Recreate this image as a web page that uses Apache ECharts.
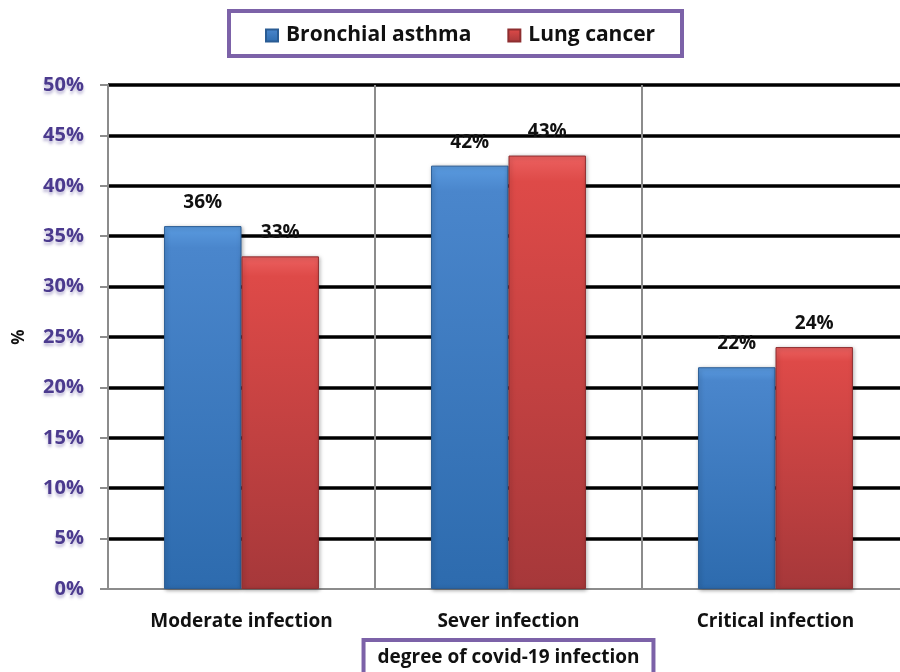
<!DOCTYPE html>
<html><head><meta charset="utf-8">
<script src="https://cdn.jsdelivr.net/npm/echarts@6/dist/echarts.min.js"></script>
<style>html,body{margin:0;padding:0;background:#fff}#c{width:900px;height:672px}</style>
</head><body><div id="c"></div>
<script>
const categories = ['Moderate infection', 'Sever infection', 'Critical infection'];
const seriesNames = ['Bronchial asthma', 'Lung cancer'];
const asthma = [36, 42, 22];
const lungCancer = [33, 43, 24];
const yTicks = [0, 5, 10, 15, 20, 25, 30, 35, 40, 45, 50];

const FONT = '"Open Sans", "Noto Sans", sans-serif';
const blueGrad = new echarts.graphic.LinearGradient(0, 0, 0, 1, [
  {offset: 0, color: '#5A9BE0'}, {offset: 0.06, color: '#4A86CC'}, {offset: 1, color: '#2D6BAE'}]);
const redGrad = new echarts.graphic.LinearGradient(0, 0, 0, 1, [
  {offset: 0, color: '#EC6160'}, {offset: 0.06, color: '#DE4A48'}, {offset: 1, color: '#A6383A'}]);

const chart = echarts.init(document.getElementById('c'));
chart.setOption({
  animation: false,
  grid: {left: 108, top: 85, width: 801, height: 504, containLabel: false, outerBoundsMode: 'none'},
  graphic: [{
    type: 'rect', shape: {x: 229, y: 11, width: 453, height: 45},
    style: {fill: '#fff', stroke: '#7C62A8', lineWidth: 4}, z: 0
  }],
  legend: {
    top: 20, left: 260, itemGap: 36, itemWidth: 12, itemHeight: 12,
    icon: 'rect', z: 10,
    textStyle: {fontFamily: FONT, fontWeight: 'bold', fontSize: 21, color: '#111', padding: [0, 0, 0, 3]},
    data: seriesNames
  },
  xAxis: {
    type: 'category', data: categories,
    axisLine: {lineStyle: {color: '#8c8c8c', width: 2}},
    axisTick: {show: false},
    splitLine: {show: true, lineStyle: {color: '#8c8c8c', width: 2}},
    axisLabel: {margin: 23, fontFamily: FONT, fontWeight: 'bold', fontSize: 19, color: '#111'},
    name: 'degree of covid-19 infection', nameLocation: 'middle', nameGap: 53,
    nameTextStyle: {fontFamily: FONT, fontWeight: 'bold', fontSize: 19, color: '#111',
      borderColor: '#7C62A8', borderWidth: 4, padding: [6, 12, 10, 12], backgroundColor: '#fff'}
  },
  yAxis: {
    type: 'value', min: yTicks[0], max: yTicks[yTicks.length - 1], interval: 5,
    axisLine: {show: true, lineStyle: {color: '#8c8c8c', width: 2}},
    axisTick: {show: true, length: 8, lineStyle: {color: '#8c8c8c', width: 2}},
    splitLine: {show: true, showMinLine: false, lineStyle: {color: '#000', width: 3.5}},
    axisLabel: {margin: 24, formatter: '{value}%', fontFamily: FONT, fontWeight: 'bold',
      fontSize: 20, color: '#4B3A8E', textShadowColor: 'rgba(75,58,142,0.35)', textShadowBlur: 3, textShadowOffsetY: 3},
    name: '%', nameLocation: 'middle', nameGap: 80, nameRotate: 90,
    nameTextStyle: {fontFamily: FONT, fontWeight: 'bold', fontSize: 17, color: '#111'}
  },
  series: [
    {name: seriesNames[0], type: 'bar', data: asthma, barGap: '0%', barCategoryGap: '42%',
     itemStyle: {color: blueGrad, borderColor: '#2A5C94', borderWidth: 1, shadowColor: 'rgba(0,0,0,0.35)', shadowBlur: 4, shadowOffsetX: 1, shadowOffsetY: 1},
     label: {show: true, position: 'top', distance: 14, formatter: '{c}%', fontFamily: FONT, fontWeight: 'bold', fontSize: 19, color: '#111'}},
    {name: seriesNames[1], type: 'bar', data: lungCancer, barGap: '0%', barCategoryGap: '42%',
     itemStyle: {color: redGrad, borderColor: '#8E2E30', borderWidth: 1, shadowColor: 'rgba(0,0,0,0.35)', shadowBlur: 4, shadowOffsetX: 1, shadowOffsetY: 1},
     label: {show: true, position: 'top', distance: 14, formatter: '{c}%', fontFamily: FONT, fontWeight: 'bold', fontSize: 19, color: '#111'}}
  ]
});
</script></body></html>
